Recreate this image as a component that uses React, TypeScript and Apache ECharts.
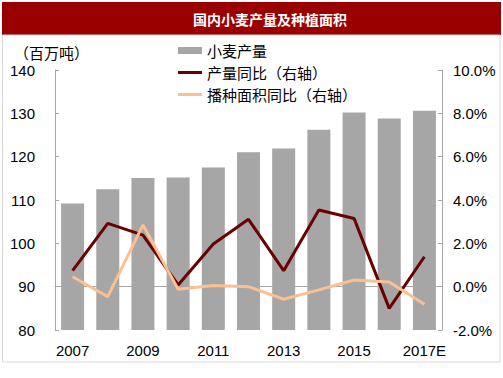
import React, { useEffect, useRef } from "react";
import * as echarts from "echarts";

const categories = ["2007", "2008", "2009", "2010", "2011", "2012", "2013", "2014", "2015", "2016", "2017E"];
const wheatOutput = [109.2, 112.5, 115.1, 115.2, 117.5, 121.0, 121.9, 126.2, 130.2, 128.8, 130.6];
const outputYoY = [0.74, 2.92, 2.38, 0.08, 1.97, 3.11, 0.74, 3.54, 3.15, -1.0, 1.38];
const areaYoY = [0.46, -0.46, 2.85, -0.12, 0.05, 0.0, -0.58, -0.15, 0.31, 0.22, -0.81];
const leftTicks = { min: 80, max: 140, interval: 10 };
const rightTicks = { min: -2, max: 10, interval: 2 };

const title = "国内小麦产量及种植面积";
const unitLabel = "（百万吨）";
const seriesNames = ["小麦产量", "产量同比（右轴）", "播种面积同比（右轴）"];

export default function App() {
  const ref = useRef<HTMLDivElement>(null);
  useEffect(() => {
    document.body.style.margin = "0";
    const chart = echarts.init(ref.current!, undefined, { renderer: "svg" });
    const axisGray = "#A6A6A6";
    const numFont = "Liberation Sans, Arial, sans-serif";
    const cjkFont = "Noto Sans CJK SC, sans-serif";
    const lineIcon = "path://M0 0H24V3H0Z";
    chart.setOption({
      animation: false,
      backgroundColor: "#fff",
      graphic: [
        {
          type: "rect",
          shape: { x: 2, y: 2, width: 499, height: 33 },
          style: { fill: "#9B0000" },
          silent: true,
        },
        {
          type: "rect",
          shape: { x: 2.5, y: 35, width: 497.5, height: 327 },
          style: { fill: "none", stroke: "#D9D9D9", lineWidth: 1 },
          silent: true,
        },
        {
          type: "text",
          x: 270,
          y: 19,
          style: {
            text: title,
            fill: "#fff",
            font: "bold 14px " + cjkFont,
            align: "center",
            verticalAlign: "middle",
          },
        },
        {
          type: "text",
          x: 14,
          y: 52,
          style: {
            text: unitLabel,
            fill: "#000",
            font: "15px " + cjkFont,
            align: "left",
            verticalAlign: "middle",
          },
        },
      ],
      legend: {
        orient: "vertical",
        left: 178,
        top: 43,
        padding: 0,
        itemWidth: 24,
        itemHeight: 7,
        itemGap: 7,
        symbolKeepAspect: true,
        textStyle: { fontSize: 15, fontFamily: cjkFont, color: "#000", lineHeight: 15 },
        data: [
          { name: seriesNames[0], icon: "rect" },
          { name: seriesNames[1], icon: lineIcon },
          { name: seriesNames[2], icon: lineIcon },
        ],
      },
      grid: { left: 55, right: 61, top: 70, bottom: 48 },
      xAxis: {
        type: "category",
        data: categories,
        axisLine: { lineStyle: { color: axisGray } },
        axisTick: { inside: true, length: 4, interval: 0, lineStyle: { color: axisGray } },
        axisLabel: { interval: 1, margin: 13, fontSize: 15, fontFamily: numFont, color: "#000" },
      },
      yAxis: [
        {
          type: "value",
          ...leftTicks,
          splitLine: { show: false },
          axisLine: { show: true, lineStyle: { color: axisGray } },
          axisTick: { show: true, inside: true, length: 4, lineStyle: { color: axisGray } },
          axisLabel: { margin: 20, fontSize: 15, fontFamily: numFont, color: "#000" },
        },
        {
          type: "value",
          ...rightTicks,
          position: "right",
          splitLine: { show: false },
          axisLine: { show: true, lineStyle: { color: axisGray } },
          axisTick: { show: true, inside: true, length: 4, lineStyle: { color: axisGray } },
          axisLabel: {
            margin: 11,
            fontSize: 15,
            fontFamily: numFont,
            color: "#000",
            formatter: (v: number) => v.toFixed(1) + "%",
          },
        },
      ],
      series: [
        {
          name: seriesNames[0],
          type: "bar",
          data: wheatOutput,
          barWidth: 23,
          itemStyle: { color: "#A6A6A6" },
        },
        {
          name: seriesNames[1],
          type: "line",
          yAxisIndex: 1,
          data: outputYoY,
          symbol: "none",
          lineStyle: { color: "#6B0000", width: 3 },
          itemStyle: { color: "#6B0000" },
        },
        {
          name: seriesNames[2],
          type: "line",
          yAxisIndex: 1,
          data: areaYoY,
          symbol: "none",
          lineStyle: { color: "#FAC090", width: 3 },
          itemStyle: { color: "#FAC090" },
        },
      ],
    });
    return () => chart.dispose();
  }, []);
  return <div ref={ref} style={{ width: 503, height: 378 }} />;
}
